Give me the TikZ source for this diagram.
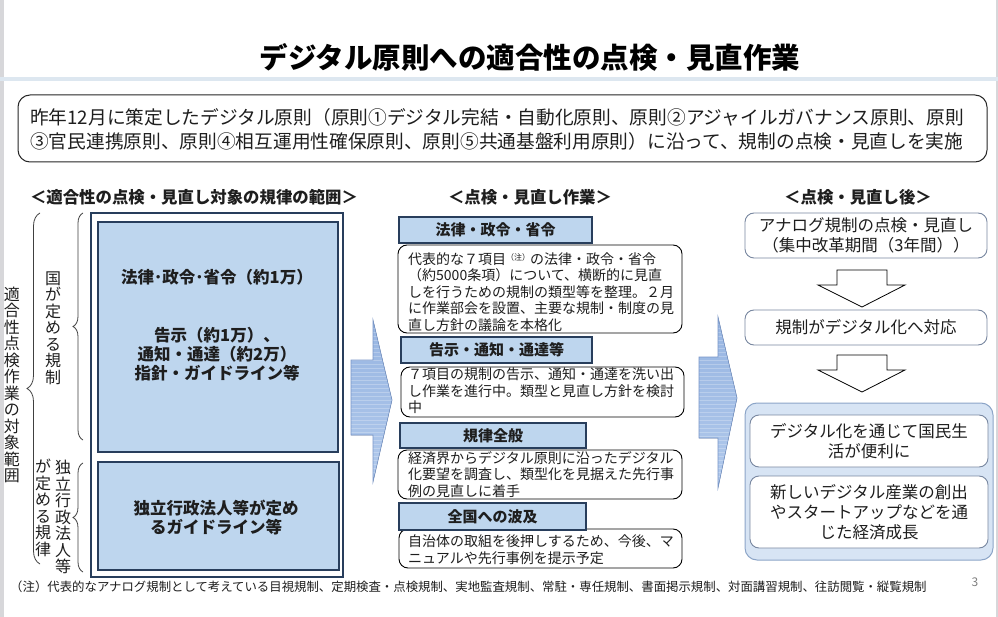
\documentclass[tikz,border=0pt]{standalone}
\usepackage{fontspec}
\setmainfont{Noto Sans CJK JP}
\usetikzlibrary{decorations.pathreplacing}
\definecolor{navy}{RGB}{40,62,92}
\definecolor{lblue}{RGB}{190,214,238}
\definecolor{gfill}{RGB}{215,228,244}
\definecolor{gline}{RGB}{140,165,200}
\definecolor{rline}{RGB}{120,135,160}
\definecolor{rule}{RGB}{221,231,240}
\definecolor{strip}{RGB}{215,215,218}
\definecolor{txtc}{RGB}{30,30,30}
\definecolor{arrtop}{RGB}{150,180,225}
\definecolor{arrbot}{RGB}{178,202,236}
\definecolor{arrline}{RGB}{120,150,200}
\newcommand\fs[2]{\fontsize{#1pt}{#2pt}\selectfont\lineskiplimit=-100pt\lineskip=0pt}
\tikzset{
  lbox/.style={draw=navy, line width=2.4pt, fill=lblue, inner sep=0pt},
  obox/.style={draw=navy, line width=1.6pt, fill=white, inner sep=0pt},
  hbox/.style={draw=navy, line width=1.8pt, fill=lblue, inner sep=0pt, font=\fs{15}{17}\bfseries, text=txtc},
  bbox/.style={draw=black, line width=0.9pt, fill=white, rounded corners=9pt, inner sep=0pt},
  rbox/.style={draw=rline, line width=0.9pt, fill=white, rounded corners=9pt, inner sep=0pt, align=center, font=\fs{16.5}{20}, text=txtc},
  btxt/.style={anchor=west, align=left, inner sep=0pt, font=\fs{14}{16.5}, text=txtc},
  vtxt/.style={align=center, inner sep=0pt, font=\fs{16}{16.5}, text=txtc},
  brc/.style={decorate, draw=black!75, line width=0.8pt},
  hdr/.style={inner sep=0pt, font=\fs{16.4}{18}\bfseries, text=txtc},
  darr/.style={draw=black, line width=0.8pt, fill=white},
}
\begin{document}
\begin{tikzpicture}[x=1pt,y=-1pt]
\useasboundingbox (0,0) rectangle (998,617);
\fill[white] (0,0) rectangle (998,617);
% frame strips
\fill[strip] (0,0) rectangle (3.5,617);
\fill[strip] (995.5,0) rectangle (998,617);
\fill[rule] (0,77.5) rectangle (998,81);
% title
\node[inner sep=0pt, font=\fs{28.5}{30}\bfseries, text=black] (title) at (530,57) {デジタル原則への適合性の点検・見直作業};
% top box
\node[draw=black!85, line width=1pt, rounded corners=12pt, minimum width=969pt, minimum height=67pt, inner sep=0pt] (topbox) at (502.5,128.5) {};
\node[anchor=west, align=left, inner sep=0pt, font=\fs{18.7}{24}, text=txtc] (toptext) at (30,129) {昨年12月に策定したデジタル原則（原則①デジタル完結・自動化原則、原則②アジャイルガバナンス原則、原則\\③官民連携原則、原則④相互運用性確保原則、原則⑤共通基盤利用原則）に沿って、規制の点検・見直しを実施};
% headers
\node[hdr] (hleft) at (194,197) {＜適合性の点検・見直し対象の規律の範囲＞};
\node[hdr] (hmid) at (530,197) {＜点検・見直し作業＞};
\node[hdr] (hright) at (858,197) {＜点検・見直し後＞};
% left boxes
\node[obox, minimum width=252pt, minimum height=364pt] (outer) at (217,395) {};
\node[lbox, minimum width=240pt, minimum height=230pt] (upper) at (218,337) {};
\node[lbox, minimum width=241pt, minimum height=108pt] (lower) at (218.5,516) {};
\node[inner sep=0pt, font=\fs{16.5}{19}\bfseries, text=txtc] (ut1) at (217,277) {法律･政令･省令（約1万）};
\node[inner sep=0pt, align=center, font=\fs{16.5}{19}\bfseries, text=txtc] (ut2) at (217,354) {告示（約1万）、\\通知・通達（約2万）\\指針・ガイドライン等};
\node[inner sep=0pt, align=center, font=\fs{16.5}{19}\bfseries, text=txtc] (lt) at (216,517.5) {独立行政法人等が定め\\るガイドライン等};
% braces and vertical labels
\draw[brc, decoration={brace, amplitude=13pt}] (40,564) -- (40,213);
\draw[brc, decoration={brace, amplitude=10pt}] (83,440) -- (83,213);
\draw[brc, decoration={brace, amplitude=10pt}] (83,572) -- (83,463);
\node[vtxt] (v1) at (12,385) {適\\合\\性\\点\\検\\作\\業\\の\\対\\象\\範\\囲};
\node[vtxt] (v2) at (53,328) {国\\が\\定\\め\\る\\規\\制};
\node[vtxt] (v3) at (63,517) {独\\立\\行\\政\\法\\人\\等};
\node[vtxt] (v4) at (43,508) {が\\定\\め\\る\\規\\律};
% big arrow 1
\begin{scope}
\clip (351,360) -- (373,360) -- (373,320) -- (392,400) -- (373,482) -- (373,435) -- (351,435) -- cycle;
\fill[top color=arrtop, bottom color=arrbot] (340,310) rectangle (400,490);
\foreach \yy in {312,316,...,488} \draw[white, opacity=0.25, line width=0.8pt] (340,\yy) -- (400,\yy);
\end{scope}
\draw[arrline, line width=0.6pt] (351,360) -- (373,360) -- (373,320) -- (392,400) -- (373,482) -- (373,435) -- (351,435) -- cycle;
% big arrow 2
\begin{scope}
\clip (699,357) -- (718,357) -- (718,317) -- (737,398) -- (718,488) -- (718,438) -- (699,438) -- cycle;
\fill[top color=arrtop, bottom color=arrbot] (690,310) rectangle (745,495);
\foreach \yy in {312,316,...,492} \draw[white, opacity=0.25, line width=0.8pt] (690,\yy) -- (745,\yy);
\end{scope}
\draw[arrline, line width=0.6pt] (699,357) -- (718,357) -- (718,317) -- (737,398) -- (718,488) -- (718,438) -- (699,438) -- cycle;
% middle body boxes
\node[bbox, minimum width=284pt, minimum height=88pt] (b1) at (540,289) {};
\node[bbox, minimum width=283pt, minimum height=50pt] (b2) at (542.5,392) {};
\node[bbox, minimum width=284pt, minimum height=49pt] (b3) at (540,474.5) {};
\node[bbox, minimum width=283pt, minimum height=39pt] (b4) at (540.5,548.5) {};
% middle header boxes
\node[hbox, minimum width=193pt, minimum height=26pt] (h1) at (495.5,230) {法律・政令・省令};
\node[hbox, minimum width=191pt, minimum height=26pt] (h2) at (496.5,350) {告示・通知・通達等};
\node[hbox, minimum width=186pt, minimum height=25pt] (h3) at (493,435.5) {規律全般};
\node[hbox, minimum width=187pt, minimum height=27pt] (h4) at (492.5,516.5) {全国への波及};
% middle texts
\node[btxt] (bt1) at (408,292) {代表的な７項目\raisebox{4pt}{\fs{8}{8}（注）}の法律・政令・省令\\（約5000条項）について、横断的に見直\\しを行うための規制の類型等を整理。２月\\に作業部会を設置、主要な規制・制度の見\\直し方針の議論を本格化};
\node[btxt] (bt2) at (408,391) {７項目の規制の告示、通知・通達を洗い出\\し作業を進行中。類型と見直し方針を検討\\中};
\node[btxt] (bt3) at (408,474.5) {経済界からデジタル原則に沿ったデジタル\\化要望を調査し、類型化を見据えた先行事\\例の見直しに着手};
\node[btxt] (bt4) at (408,549.5) {自治体の取組を後押しするため、今後、マ\\ニュアルや先行事例を提示予定};
% right column
\node[rbox, minimum width=242pt, minimum height=45pt] (r1) at (866,235.5) {アナログ規制の点検・見直し\\（集中改革期間（3年間））};
\node[rbox, minimum width=242pt, minimum height=35pt] (r2) at (866,327.5) {規制がデジタル化へ対応};
\node[draw=gline, line width=1pt, fill=gfill, rounded corners=12pt, minimum width=248pt, minimum height=157pt, inner sep=0pt] (grp) at (869,481.5) {};
\node[rbox, minimum width=238pt, minimum height=52pt] (g1) at (869,441) {デジタル化を通じて国民生\\活が便利に};
\node[rbox, minimum width=238pt, minimum height=72pt] (g2) at (869,512) {新しいデジタル産業の創出\\やスタートアップなどを通\\じた経済成長};
% down arrows
\draw[darr] (837,270) -- (887,270) -- (887,285) -- (905,285) -- (862,307) -- (818,285) -- (837,285) -- cycle;
\draw[darr] (837,355) -- (887,355) -- (887,370) -- (905,370) -- (862,392) -- (818,370) -- (837,370) -- cycle;
% footnote
\node[anchor=west, inner sep=0pt, font=\fs{12.4}{14}, text=txtc] (foot) at (10,587) {（注）代表的なアナログ規制として考えている目視規制、定期検査・点検規制、実地監査規制、常駐・専任規制、書面掲示規制、対面講習規制、往訪閲覧・縦覧規制};
\node[inner sep=0pt, font=\fs{12}{14}, text=black!50] (pgno) at (975,582) {3};
\end{tikzpicture}
\end{document}
